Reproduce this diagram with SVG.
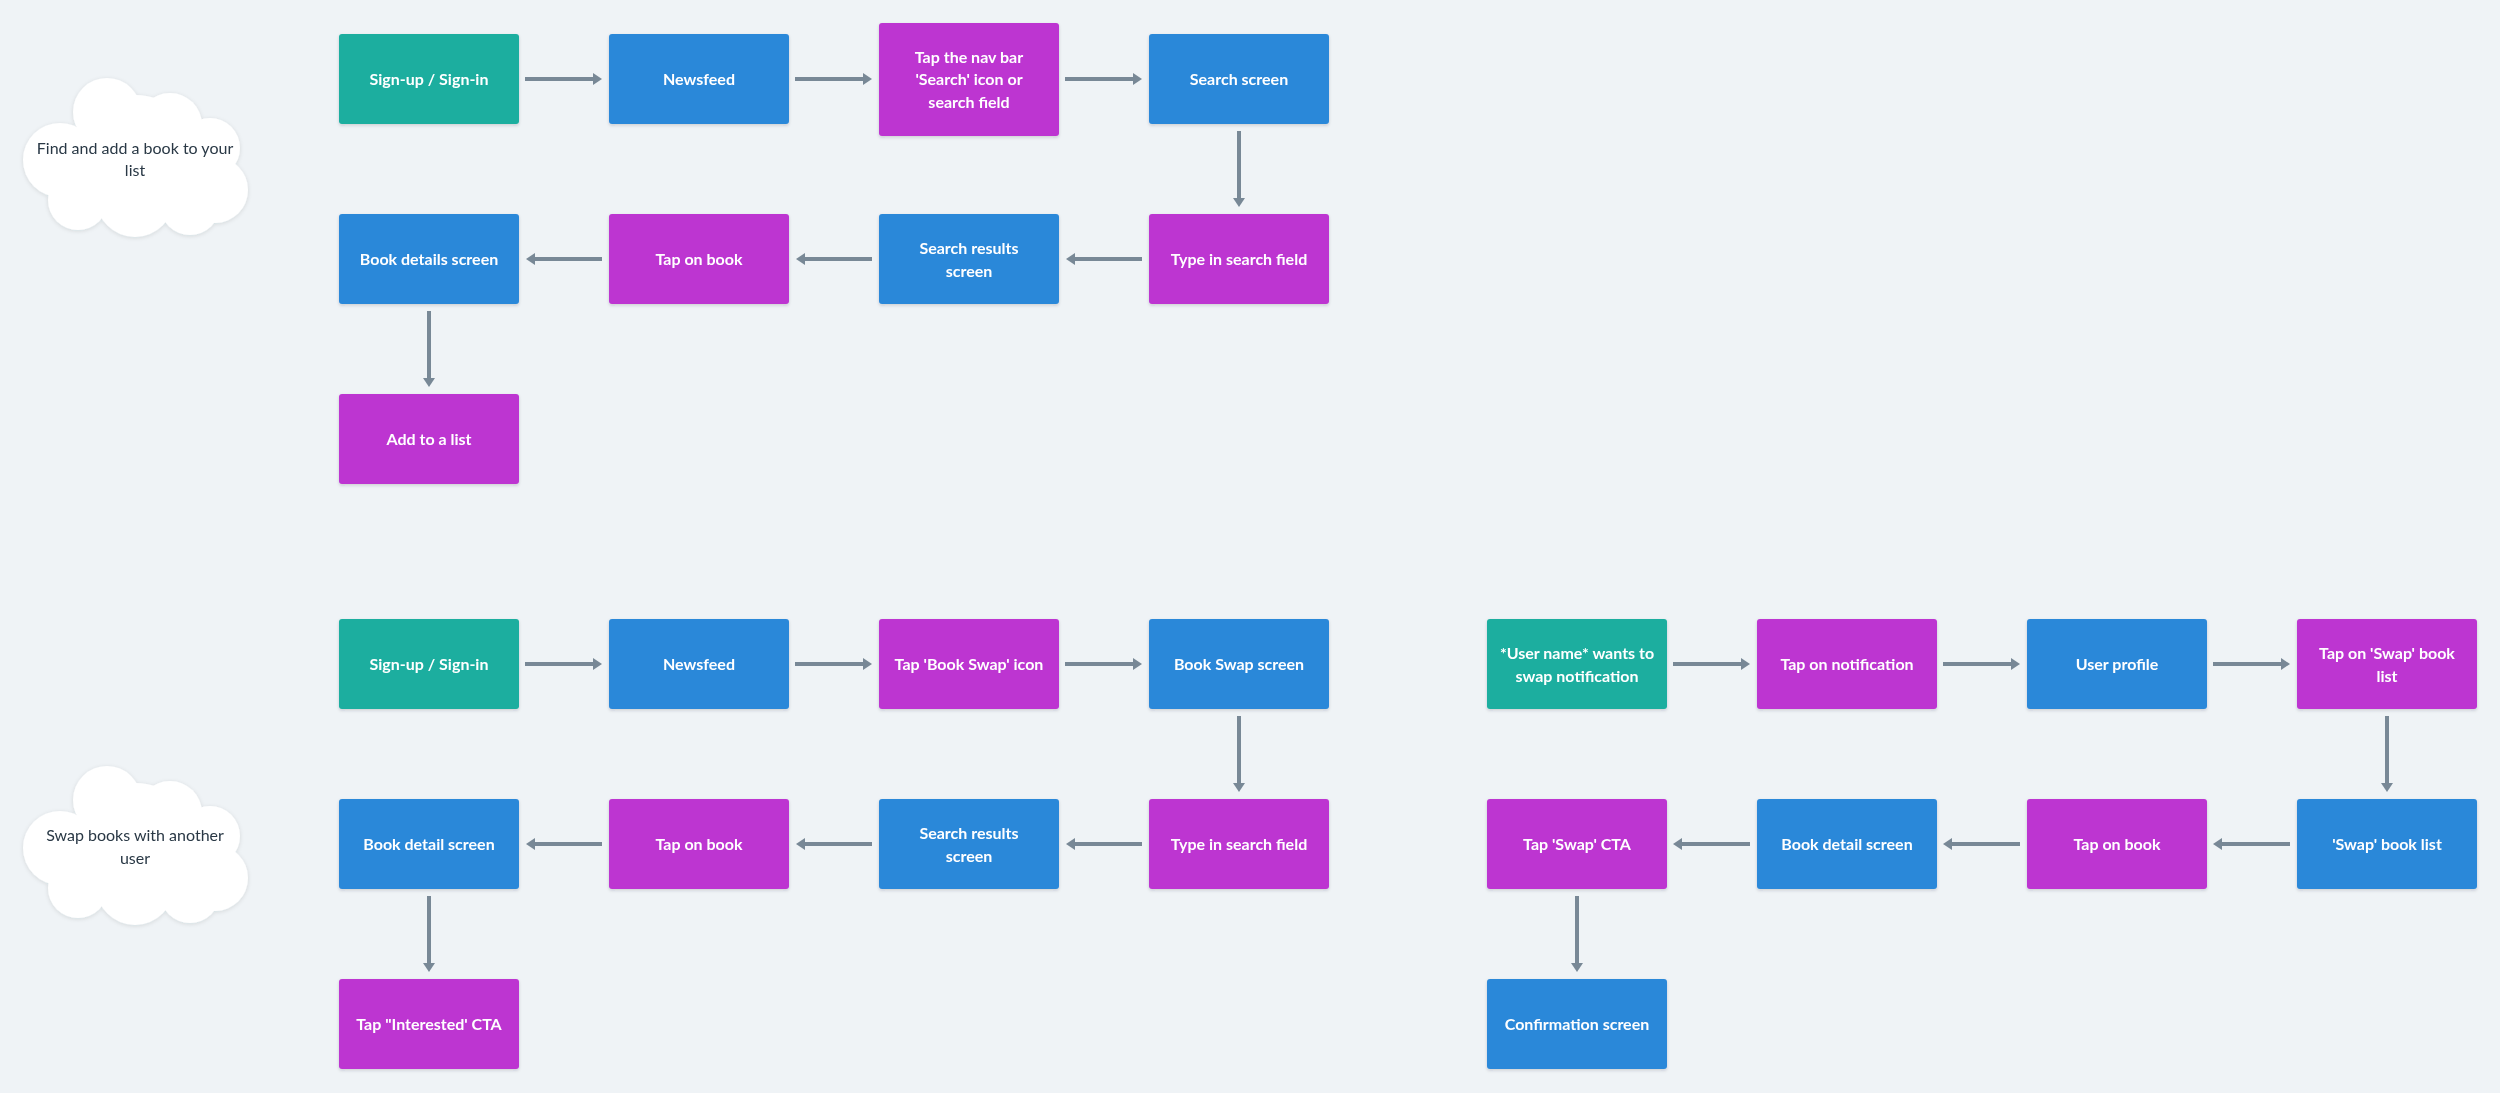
<svg xmlns="http://www.w3.org/2000/svg" width="2500" height="1093" viewBox="0 0 2500 1093">
<defs>
<style>
.bg{fill:#eff3f6}
.box{stroke:none}
.teal{fill:#1aae9f}
.blue{fill:#2c88d9}
.purple{fill:#bd34d1}
.lbl{font-family:Lato,"Noto Sans","Liberation Sans",sans-serif;font-size:16px;font-weight:700;fill:#ffffff;text-anchor:middle}
.cloudtxt{font-family:Lato,"Noto Sans","Liberation Sans",sans-serif;font-size:16px;fill:#293845;text-anchor:middle}
.conn{fill:none;stroke:#788896;stroke-width:4;marker-end:url(#ah)}
.cloud circle{fill:#ffffff}
</style>
<marker id="ah" viewBox="0 0 9 12" refX="4" refY="6" markerWidth="9" markerHeight="12" markerUnits="userSpaceOnUse" orient="auto">
<path d="M0,0 L9,6 L0,12 z" fill="#788896"/>
</marker>
<filter id="sh" x="-10%" y="-10%" width="120%" height="130%">
<feDropShadow dx="0" dy="1.5" stdDeviation="1.5" flood-color="#1a2a3a" flood-opacity="0.18"/>
</filter>
<filter id="csh" x="-10%" y="-10%" width="120%" height="130%">
<feDropShadow dx="0" dy="1" stdDeviation="2" flood-color="#1a2a3a" flood-opacity="0.12"/>
</filter>
<g id="cloudshape">
<circle cx="107" cy="112" r="34"/>
<circle cx="170" cy="125" r="32"/>
<circle cx="210" cy="148" r="30"/>
<circle cx="215" cy="190" r="33"/>
<circle cx="190" cy="205" r="30"/>
<circle cx="135" cy="198" r="39"/>
<circle cx="78" cy="200" r="30"/>
<circle cx="60" cy="160" r="37"/>
<circle cx="135" cy="160" r="65"/>
</g>
</defs>
<rect class="bg" x="0" y="0" width="2500" height="1093"/>

<g id="cloud1" class="cloud" filter="url(#csh)">
<use href="#cloudshape" fill="#ffffff"/>
<text class="cloudtxt" x="135" y="153.5">Find and add a book to your</text>
<text class="cloudtxt" x="135" y="176">list</text>
</g>
<g id="cloud2" class="cloud" filter="url(#csh)">
<use href="#cloudshape" fill="#ffffff" transform="translate(0,688)"/>
<text class="cloudtxt" x="135" y="841">Swap books with another</text>
<text class="cloudtxt" x="135" y="864">user</text>
</g>

<g id="connectors">
<path class="conn" d="M525,79 H597"/>
<path class="conn" d="M795,79 H867"/>
<path class="conn" d="M1065,79 H1137"/>
<path class="conn" d="M1239,131 V202"/>
<path class="conn" d="M1142,259 H1071"/>
<path class="conn" d="M872,259 H801"/>
<path class="conn" d="M602,259 H531"/>
<path class="conn" d="M429,311 V382"/>

<path class="conn" d="M525,664 H597"/>
<path class="conn" d="M795,664 H867"/>
<path class="conn" d="M1065,664 H1137"/>
<path class="conn" d="M1239,716 V787"/>
<path class="conn" d="M1142,844 H1071"/>
<path class="conn" d="M872,844 H801"/>
<path class="conn" d="M602,844 H531"/>
<path class="conn" d="M429,896 V967"/>

<path class="conn" d="M1673,664 H1745"/>
<path class="conn" d="M1943,664 H2015"/>
<path class="conn" d="M2213,664 H2285"/>
<path class="conn" d="M2387,716 V787"/>
<path class="conn" d="M2290,844 H2218"/>
<path class="conn" d="M2020,844 H1948"/>
<path class="conn" d="M1750,844 H1678"/>
<path class="conn" d="M1577,896 V967"/>
</g>

<g id="n1" filter="url(#sh)"><rect class="box teal" x="339" y="34" width="180" height="90" rx="3"/><text class="lbl" x="429" y="84.5">Sign-up / Sign-in</text></g>
<g id="n2" filter="url(#sh)"><rect class="box blue" x="609" y="34" width="180" height="90" rx="3"/><text class="lbl" x="699" y="84.5">Newsfeed</text></g>
<g id="n3" filter="url(#sh)"><rect class="box purple" x="879" y="23" width="180" height="113" rx="3"/><text class="lbl" x="969" y="62.5">Tap the nav bar</text><text class="lbl" x="969" y="85">'Search' icon or</text><text class="lbl" x="969" y="107.5">search field</text></g>
<g id="n4" filter="url(#sh)"><rect class="box blue" x="1149" y="34" width="180" height="90" rx="3"/><text class="lbl" x="1239" y="84.5">Search screen</text></g>
<g id="n5" filter="url(#sh)"><rect class="box purple" x="1149" y="214" width="180" height="90" rx="3"/><text class="lbl" x="1239" y="264.5">Type in search field</text></g>
<g id="n6" filter="url(#sh)"><rect class="box blue" x="879" y="214" width="180" height="90" rx="3"/><text class="lbl" x="969" y="254">Search results</text><text class="lbl" x="969" y="276.5">screen</text></g>
<g id="n7" filter="url(#sh)"><rect class="box purple" x="609" y="214" width="180" height="90" rx="3"/><text class="lbl" x="699" y="264.5">Tap on book</text></g>
<g id="n8" filter="url(#sh)"><rect class="box blue" x="339" y="214" width="180" height="90" rx="3"/><text class="lbl" x="429" y="264.5">Book details screen</text></g>
<g id="n9" filter="url(#sh)"><rect class="box purple" x="339" y="394" width="180" height="90" rx="3"/><text class="lbl" x="429" y="444.5">Add to a list</text></g>

<g id="m1" filter="url(#sh)"><rect class="box teal" x="339" y="619" width="180" height="90" rx="3"/><text class="lbl" x="429" y="669.5">Sign-up / Sign-in</text></g>
<g id="m2" filter="url(#sh)"><rect class="box blue" x="609" y="619" width="180" height="90" rx="3"/><text class="lbl" x="699" y="669.5">Newsfeed</text></g>
<g id="m3" filter="url(#sh)"><rect class="box purple" x="879" y="619" width="180" height="90" rx="3"/><text class="lbl" x="969" y="669.5">Tap 'Book Swap' icon</text></g>
<g id="m4" filter="url(#sh)"><rect class="box blue" x="1149" y="619" width="180" height="90" rx="3"/><text class="lbl" x="1239" y="669.5">Book Swap screen</text></g>
<g id="m5" filter="url(#sh)"><rect class="box purple" x="1149" y="799" width="180" height="90" rx="3"/><text class="lbl" x="1239" y="849.5">Type in search field</text></g>
<g id="m6" filter="url(#sh)"><rect class="box blue" x="879" y="799" width="180" height="90" rx="3"/><text class="lbl" x="969" y="839">Search results</text><text class="lbl" x="969" y="861.5">screen</text></g>
<g id="m7" filter="url(#sh)"><rect class="box purple" x="609" y="799" width="180" height="90" rx="3"/><text class="lbl" x="699" y="849.5">Tap on book</text></g>
<g id="m8" filter="url(#sh)"><rect class="box blue" x="339" y="799" width="180" height="90" rx="3"/><text class="lbl" x="429" y="849.5">Book detail screen</text></g>
<g id="m9" filter="url(#sh)"><rect class="box purple" x="339" y="979" width="180" height="90" rx="3"/><text class="lbl" x="429" y="1029.5">Tap "Interested' CTA</text></g>

<g id="r1" filter="url(#sh)"><rect class="box teal" x="1487" y="619" width="180" height="90" rx="3"/><text class="lbl" x="1577" y="659">*User name* wants to</text><text class="lbl" x="1577" y="681.5">swap notification</text></g>
<g id="r2" filter="url(#sh)"><rect class="box purple" x="1757" y="619" width="180" height="90" rx="3"/><text class="lbl" x="1847" y="669.5">Tap on notification</text></g>
<g id="r3" filter="url(#sh)"><rect class="box blue" x="2027" y="619" width="180" height="90" rx="3"/><text class="lbl" x="2117" y="669.5">User profile</text></g>
<g id="r4" filter="url(#sh)"><rect class="box purple" x="2297" y="619" width="180" height="90" rx="3"/><text class="lbl" x="2387" y="659">Tap on 'Swap' book</text><text class="lbl" x="2387" y="681.5">list</text></g>
<g id="r5" filter="url(#sh)"><rect class="box blue" x="2297" y="799" width="180" height="90" rx="3"/><text class="lbl" x="2387" y="849.5">'Swap' book list</text></g>
<g id="r6" filter="url(#sh)"><rect class="box purple" x="2027" y="799" width="180" height="90" rx="3"/><text class="lbl" x="2117" y="849.5">Tap on book</text></g>
<g id="r7" filter="url(#sh)"><rect class="box blue" x="1757" y="799" width="180" height="90" rx="3"/><text class="lbl" x="1847" y="849.5">Book detail screen</text></g>
<g id="r8" filter="url(#sh)"><rect class="box purple" x="1487" y="799" width="180" height="90" rx="3"/><text class="lbl" x="1577" y="849.5">Tap 'Swap' CTA</text></g>
<g id="r9" filter="url(#sh)"><rect class="box blue" x="1487" y="979" width="180" height="90" rx="3"/><text class="lbl" x="1577" y="1029.5">Confirmation screen</text></g>
</svg>
